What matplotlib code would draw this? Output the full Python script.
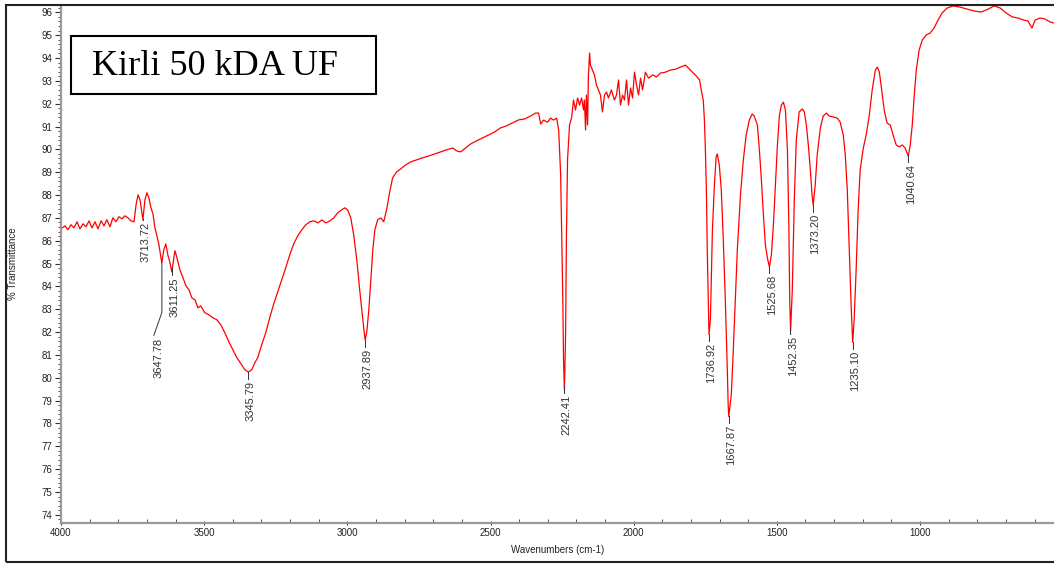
import numpy as np
import matplotlib.pyplot as plt
from matplotlib.patches import Rectangle
from matplotlib.ticker import MultipleLocator

# FTIR spectrum, Kirli 50 kDA UF
wavenumber = [3996, 3986, 3976, 3965, 3955, 3944, 3934, 3923, 3913, 3902,
              3892, 3881, 3871, 3860, 3850, 3840, 3829, 3819, 3808, 3798,
              3787, 3777, 3766, 3756, 3745, 3738, 3731, 3724, 3714, 3707,
              3700, 3693, 3686, 3679, 3672, 3665, 3658, 3651, 3648, 3641,
              3634, 3627, 3620, 3613, 3606, 3602, 3595, 3585, 3574, 3564,
              3553, 3543, 3532, 3522, 3512, 3498, 3484, 3470, 3456, 3442,
              3428, 3414, 3400, 3386, 3372, 3358, 3346, 3334, 3323, 3313,
              3299, 3285, 3271, 3257, 3243, 3229, 3215, 3201, 3187, 3173,
              3159, 3145, 3131, 3117, 3103, 3089, 3075, 3061, 3047, 3034,
              3020, 3009, 2999, 2988, 2978, 2967, 2957, 2946, 2938, 2932,
              2925, 2918, 2911, 2904, 2894, 2883, 2873, 2863, 2852, 2842,
              2828, 2814, 2796, 2779, 2758, 2737, 2716, 2695, 2674, 2653,
              2632, 2618, 2604, 2587, 2569, 2549, 2528, 2507, 2486, 2465,
              2444, 2423, 2402, 2381, 2360, 2343, 2332, 2325, 2315, 2301,
              2290, 2280, 2269, 2262, 2255, 2248, 2245, 2242, 2238, 2235,
              2231, 2224, 2217, 2210, 2203, 2196, 2189, 2182, 2175, 2172,
              2168, 2165, 2161, 2158, 2154, 2151, 2144, 2137, 2130, 2123,
              2116, 2109, 2102, 2095, 2088, 2078, 2067, 2060, 2053, 2046,
              2039, 2032, 2025, 2018, 2011, 2004, 1997, 1990, 1983, 1976,
              1969, 1959, 1948, 1934, 1920, 1907, 1889, 1872, 1854, 1837,
              1819, 1809, 1795, 1781, 1770, 1764, 1757, 1753, 1750, 1746,
              1743, 1739, 1737, 1732, 1729, 1725, 1718, 1712, 1708, 1701,
              1694, 1687, 1680, 1673, 1670, 1668, 1659, 1652, 1645, 1638,
              1627, 1617, 1607, 1596, 1586, 1579, 1568, 1561, 1554, 1547,
              1540, 1533, 1526, 1519, 1512, 1505, 1498, 1491, 1484, 1477,
              1470, 1463, 1458, 1455, 1452, 1446, 1439, 1432, 1422, 1411,
              1404, 1397, 1390, 1383, 1377, 1373, 1366, 1359, 1348, 1338,
              1327, 1317, 1303, 1289, 1279, 1268, 1261, 1254, 1247, 1240,
              1235, 1230, 1223, 1216, 1209, 1198, 1188, 1177, 1167, 1156,
              1149, 1142, 1136, 1125, 1115, 1104, 1094, 1083, 1073, 1062,
              1052, 1041, 1034, 1027, 1020, 1013, 1003, 992, 978, 965,
              951, 937, 923, 905, 884, 860, 835, 811, 787, 762,
              741, 720, 699, 678, 658, 637, 623, 609, 598, 581,
              564, 546, 532]
transmittance = [86.56, 86.65, 86.48, 86.70, 86.56, 86.83, 86.52, 86.74, 86.61, 86.87,
                 86.56, 86.83, 86.52, 86.87, 86.65, 86.92, 86.61, 87.00, 86.83, 87.05,
                 86.96, 87.09, 87.00, 86.87, 86.83, 87.57, 88.01, 87.79, 86.91, 87.79,
                 88.10, 87.88, 87.44, 87.18, 86.56, 86.21, 85.82, 85.25, 85.04, 85.60,
                 85.86, 85.38, 85.07, 84.63, 85.25, 85.56, 85.25, 84.73, 84.38, 84.03,
                 83.85, 83.50, 83.41, 83.06, 83.15, 82.85, 82.76, 82.63, 82.54, 82.32,
                 81.97, 81.58, 81.23, 80.88, 80.62, 80.35, 80.25, 80.35, 80.66, 80.88,
                 81.45, 81.97, 82.63, 83.24, 83.77, 84.29, 84.82, 85.39, 85.87, 86.22,
                 86.48, 86.70, 86.83, 86.87, 86.78, 86.91, 86.78, 86.87, 87.00, 87.22,
                 87.35, 87.44, 87.35, 87.00, 86.26, 85.17, 83.86, 82.55, 81.65, 82.02,
                 82.98, 84.29, 85.60, 86.48, 86.92, 87.00, 86.83, 87.35, 88.14, 88.75,
                 89.01, 89.14, 89.32, 89.45, 89.54, 89.63, 89.71, 89.80, 89.89, 89.98,
                 90.06, 89.93, 89.89, 90.06, 90.24, 90.37, 90.50, 90.63, 90.76, 90.94,
                 91.03, 91.16, 91.29, 91.33, 91.46, 91.59, 91.59, 91.11, 91.28, 91.19,
                 91.37, 91.28, 91.37, 90.85, 88.88, 83.85, 80.79, 79.45, 81.67, 86.04,
                 89.54, 91.07, 91.37, 92.16, 91.72, 92.25, 91.94, 92.25, 91.72, 92.16,
                 90.85, 92.38, 91.07, 93.26, 94.22, 93.69, 93.47, 93.26, 92.82, 92.60,
                 92.38, 91.64, 92.38, 92.51, 92.25, 92.60, 92.16, 92.38, 93.04, 91.94,
                 92.38, 92.16, 93.04, 91.94, 92.69, 92.25, 93.38, 92.82, 92.38, 93.12,
                 92.60, 93.38, 93.12, 93.26, 93.17, 93.34, 93.38, 93.47, 93.51, 93.60,
                 93.69, 93.56, 93.38, 93.21, 93.04, 92.60, 92.16, 91.29, 90.19, 88.22,
                 85.60, 82.98, 81.90, 82.55, 84.29, 86.48, 88.44, 89.67, 89.80, 89.32,
                 88.22, 86.04, 83.42, 80.36, 78.83, 78.30, 79.26, 81.23, 83.42, 85.60,
                 88.01, 89.54, 90.63, 91.29, 91.55, 91.46, 91.07, 89.98, 88.67, 87.14,
                 85.82, 85.25, 84.85, 85.38, 86.69, 88.44, 90.19, 91.50, 91.94, 92.07,
                 91.72, 89.98, 86.60, 83.40, 82.05, 83.85, 87.79, 90.41, 91.64, 91.77,
                 91.64, 91.07, 90.19, 89.10, 88.01, 87.55, 88.44, 89.76, 90.94, 91.46,
                 91.59, 91.46, 91.42, 91.37, 91.20, 90.63, 89.76, 88.23, 85.60, 82.98,
                 81.55, 82.54, 84.73, 87.36, 89.10, 90.06, 90.63, 91.50, 92.60, 93.47,
                 93.60, 93.38, 92.82, 91.72, 91.15, 91.07, 90.63, 90.19, 90.11, 90.19,
                 90.06, 89.70, 90.19, 91.07, 92.38, 93.47, 94.35, 94.79, 95.01, 95.09,
                 95.31, 95.66, 95.97, 96.19, 96.28, 96.23, 96.14, 96.06, 96.01, 96.14,
                 96.28, 96.19, 95.97, 95.80, 95.75, 95.66, 95.62, 95.31, 95.66, 95.75,
                 95.71, 95.58, 95.53]

# marked peaks
peak_labels = ['3713.72', '3647.78', '3611.25', '3345.79', '2937.89', '2242.41',
               '1736.92', '1667.87', '1525.68', '1452.35', '1373.20', '1235.10',
               '1040.64']
peak_wn = [float(p) for p in peak_labels]

fig = plt.figure(figsize=(10.54, 5.64), dpi=100)
ax = fig.add_axes([0.0579, 0.0727, 0.9421, 0.9184])

ax.plot(wavenumber, transmittance, color='red', lw=0.9)
ax.set_xlim(4000, 532)
ax.set_ylim(73.64, 96.32)

# peak markers: short leader, value written downwards
wn_sorted = np.array(wavenumber)[::-1]
t_sorted = np.array(transmittance)[::-1]
for lab, w in zip(peak_labels, peak_wn):
    t = np.interp(w, wn_sorted, t_sorted)
    if lab == '3647.78':
        ax.plot([w, w, w + 28], [t, t - 2.2, t - 3.2], color='#333333', lw=0.7)
        ax.text(w + 12, t - 3.3, lab, rotation=90, ha='center', va='top',
                fontsize=8, color='#333333', family='Liberation Sans')
        continue
    drop = 0.3
    if lab == '3713.72':
        drop = 0.05
    ax.plot([w, w], [t, t - drop], color='#333333', lw=0.7)
    ax.text(w - 8, t - drop - 0.08, lab, rotation=90, ha='center', va='top',
            fontsize=8, color='#333333', family='Liberation Sans')

# sample name box
ax.add_patch(Rectangle((0.0101, 0.828), 0.307, 0.112, transform=ax.transAxes,
                       fill=False, ec='black', lw=1.5))
ax.text(0.031, 0.882, 'Kirli 50 kDA UF', transform=ax.transAxes, va='center',
        ha='left', fontsize=26, family='Liberation Serif')

ax.xaxis.set_major_locator(MultipleLocator(500))
ax.xaxis.set_minor_locator(MultipleLocator(100))
ax.yaxis.set_major_locator(MultipleLocator(1))
ax.yaxis.set_minor_locator(MultipleLocator(0.2))
ax.set_xticks([4000, 3500, 3000, 2500, 2000, 1500, 1000])
ax.tick_params(axis='both', which='major', labelsize=7, labelcolor='#222222',
               color='#333333', width=0.8)
ax.tick_params(axis='y', which='major', length=4, direction='out', pad=2)
ax.tick_params(axis='y', which='minor', length=2, direction='out', color='#333333')
ax.tick_params(axis='x', which='major', length=3, direction='inout', pad=2)
ax.tick_params(axis='x', which='minor', length=3, direction='in', color='#333333')
for lbl in ax.get_xticklabels() + ax.get_yticklabels():
    lbl.set_family('Liberation Sans')

for s in ['top', 'right']:
    ax.spines[s].set_visible(False)
for s in ['left', 'bottom']:
    ax.spines[s].set_color('#999999')
    ax.spines[s].set_linewidth(1.6)

ax.set_xlabel('Wavenumbers (cm-1)', fontsize=7, family='Liberation Sans',
              color='#222222', labelpad=5)
ax.set_ylabel('% Transmittance', fontsize=7, family='Liberation Sans',
              color='#222222', labelpad=17)

# outer frame
fig.patches.append(Rectangle((0.0057, 0.004), 1.1, 0.987, transform=fig.transFigure,
                             fill=False, ec='#222222', lw=1.5))

fig.savefig('out.png', dpi=100)
